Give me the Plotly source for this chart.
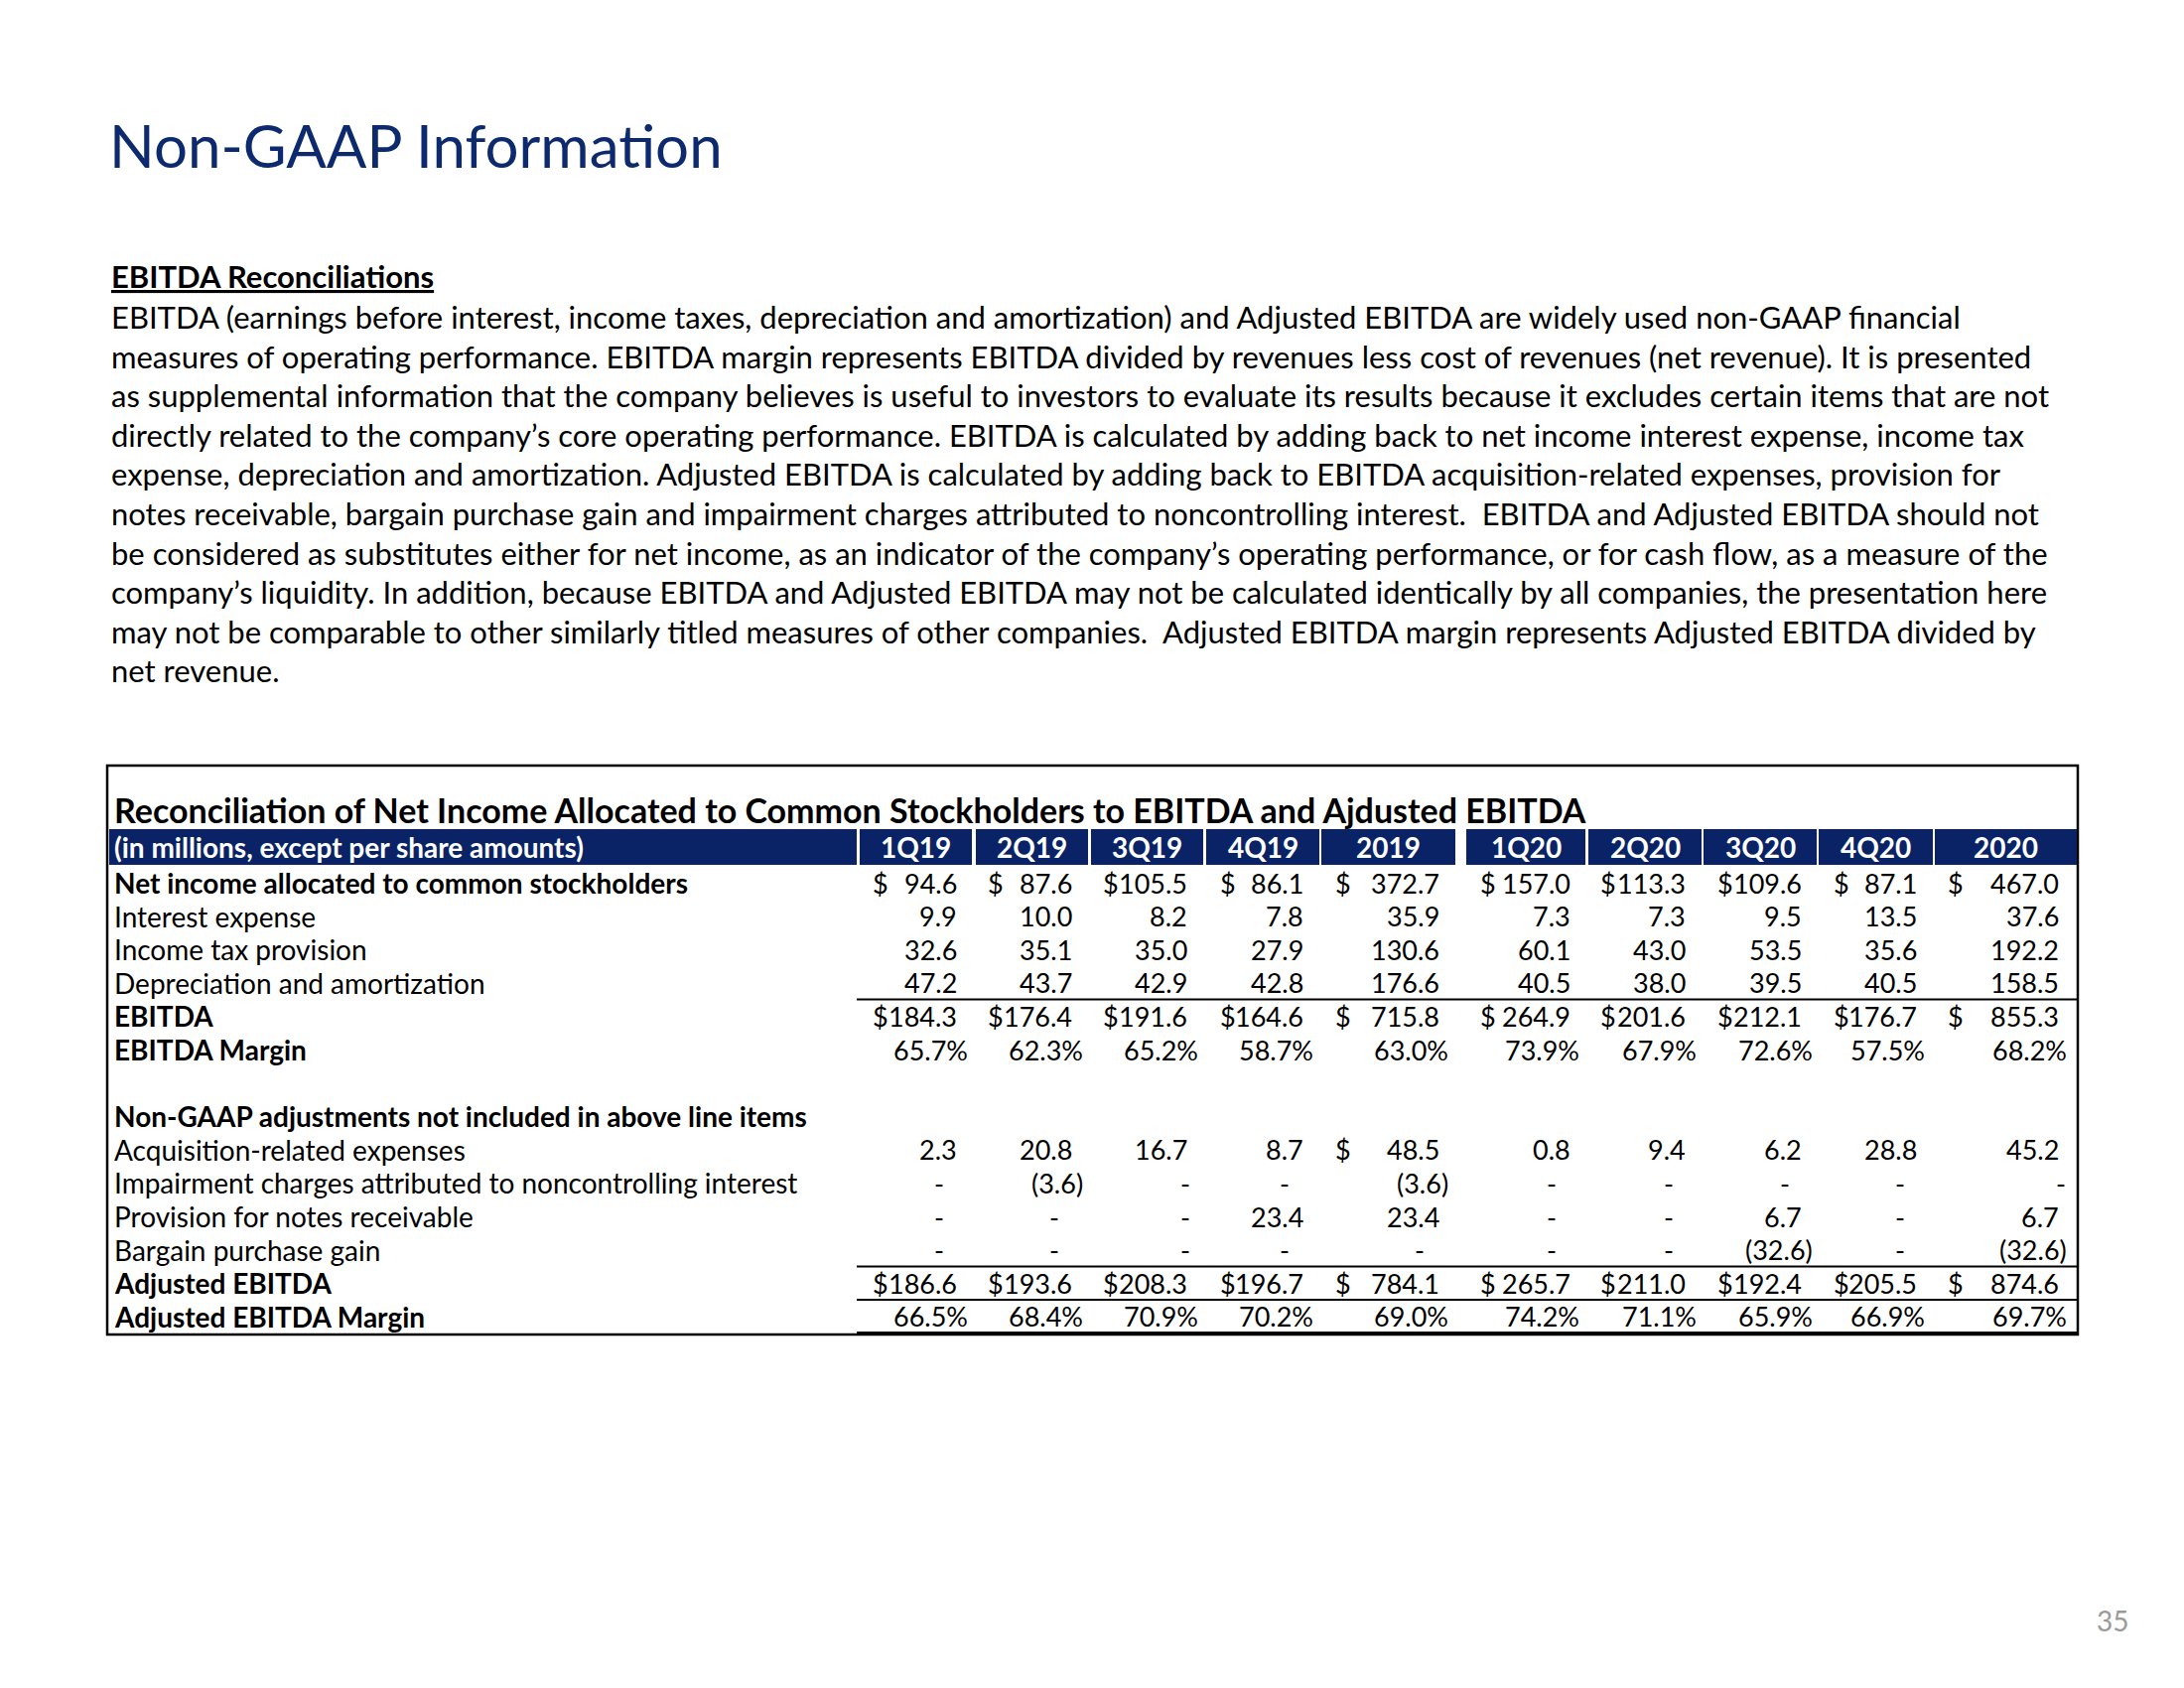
import plotly.graph_objects as go

# ---------------- data ----------------
columns = ["1Q19", "2Q19", "3Q19", "4Q19", "2019", "1Q20", "2Q20", "3Q20", "4Q20", "2020"]

net_income = [94.6, 87.6, 105.5, 86.1, 372.7, 157.0, 113.3, 109.6, 87.1, 467.0]
interest_expense = [9.9, 10.0, 8.2, 7.8, 35.9, 7.3, 7.3, 9.5, 13.5, 37.6]
income_tax = [32.6, 35.1, 35.0, 27.9, 130.6, 60.1, 43.0, 53.5, 35.6, 192.2]
dep_amort = [47.2, 43.7, 42.9, 42.8, 176.6, 40.5, 38.0, 39.5, 40.5, 158.5]
ebitda = [184.3, 176.4, 191.6, 164.6, 715.8, 264.9, 201.6, 212.1, 176.7, 855.3]
ebitda_margin = [65.7, 62.3, 65.2, 58.7, 63.0, 73.9, 67.9, 72.6, 57.5, 68.2]
acquisition = [2.3, 20.8, 16.7, 8.7, 48.5, 0.8, 9.4, 6.2, 28.8, 45.2]
impairment = [0, -3.6, 0, 0, -3.6, 0, 0, 0, 0, 0]
provision_notes = [0, 0, 0, 23.4, 23.4, 0, 0, 6.7, 0, 6.7]
bargain_gain = [0, 0, 0, 0, 0, 0, 0, -32.6, 0, -32.6]
adj_ebitda = [186.6, 193.6, 208.3, 196.7, 784.1, 265.7, 211.0, 192.4, 205.5, 874.6]
adj_ebitda_margin = [66.5, 68.4, 70.9, 70.2, 69.0, 74.2, 71.1, 65.9, 66.9, 69.7]

row_labels = [
    "Net income allocated to common stockholders",
    "Interest expense",
    "Income tax provision",
    "Depreciation and amortization",
    "EBITDA",
    "EBITDA Margin",
    "",
    "Non-GAAP adjustments not included in above line items",
    "Acquisition-related expenses",
    "Impairment charges attributed to noncontrolling interest",
    "Provision for notes receivable",
    "Bargain purchase gain",
    "Adjusted EBITDA",
    "Adjusted EBITDA Margin",
]
bold_rows = {0, 4, 5, 7, 12, 13}
# row index -> (values, kind, dollar flags)
row_values = {
    0: (net_income, "num", [True] * 10),
    1: (interest_expense, "num", [False] * 10),
    2: (income_tax, "num", [False] * 10),
    3: (dep_amort, "num", [False] * 10),
    4: (ebitda, "num", [True] * 10),
    5: (ebitda_margin, "pct", [False] * 10),
    8: (acquisition, "num", [False, False, False, False, True, False, False, False, False, False]),
    9: (impairment, "num", [False] * 10),
    10: (provision_notes, "num", [False] * 10),
    11: (bargain_gain, "num", [False] * 10),
    12: (adj_ebitda, "num", [True] * 10),
    13: (adj_ebitda_margin, "pct", [False] * 10),
}

title = "Non-GAAP Information"
subheading = "EBITDA Reconciliations"
paragraph_lines = [
    "EBITDA (earnings before interest, income taxes, depreciation and amortization) and Adjusted EBITDA are widely used non-GAAP financial",
    "measures of operating performance. EBITDA margin represents EBITDA divided by revenues less cost of revenues (net revenue). It is presented",
    "as supplemental information that the company believes is useful to investors to evaluate its results because it excludes certain items that are not",
    "directly related to the company\u2019s core operating performance. EBITDA is calculated by adding back to net income interest expense, income tax",
    "expense, depreciation and amortization. Adjusted EBITDA is calculated by adding back to EBITDA acquisition-related expenses, provision for",
    "notes receivable, bargain purchase gain and impairment charges attributed to noncontrolling interest.&nbsp; EBITDA and Adjusted EBITDA should not",
    "be considered as substitutes either for net income, as an indicator of the company\u2019s operating performance, or for cash flow, as a measure of the",
    "company\u2019s liquidity. In addition, because EBITDA and Adjusted EBITDA may not be calculated identically by all companies, the presentation here",
    "may not be comparable to other similarly titled measures of other companies.&nbsp; Adjusted EBITDA margin represents Adjusted EBITDA divided by",
    "net revenue.",
]
table_title = "Reconciliation of Net Income Allocated to Common Stockholders to EBITDA and Ajdusted EBITDA"
header_label = "(in millions, except per share amounts)"
page_number = "35"

# ---------------- layout / style ----------------
W, H = 2200, 1700
PAGE_OFFSET = 8  # browser body margin
NAVY = "#0A2366"
FONT = "Lato"

# header segments (x0, x1): label then each column
label_seg = (110, 863)
col_segs = [(866, 979), (983, 1096), (1099, 1212), (1215, 1329), (1331, 1466),
            (1477, 1597), (1600, 1714), (1716, 1830), (1832, 1947), (1949, 2092)]
num_right = [964, 1080, 1196, 1313, 1450, 1582, 1698, 1815, 1931, 2074]
paren_right = [975, 1091, 1207, 1323, 1459, 1591, 1709, 1826, 1939, 2082]
dollar_left = [879, 995, 1111, 1229, 1345, 1491, 1612, 1730, 1847, 1962]
dash_offset = [18, 18, 2, 19, 20, 19, 17, 17, 17, -2]

row_y0, row_h = 889, 33.6
label_x = 115
table_box = (108, 771, 2093, 1344)
header_y = (835, 871)
lines_x = (863, 2093)
NUM_SIZE = 27
LABEL_SIZE = 28

def row_y(i):
    return row_y0 + i * row_h

fig = go.Figure()
fig.add_trace(go.Scatter(x=[0, W], y=[0, H], mode="markers", marker=dict(opacity=0), hoverinfo="skip"))

ann = []

def txt(x, y, s, size, color="black", anchor="left", bold=False, yanchor="middle"):
    ann.append(dict(
        x=x, y=y, xref="x", yref="y", text=(f"<b>{s}</b>" if bold else s),
        showarrow=False, xanchor=anchor, yanchor=yanchor, borderpad=0, borderwidth=0,
        font=dict(size=size, color=color, family=FONT),
    ))

# Title
txt(110, 146, title, 60, color="#0D2A6E")
# Sub heading (underlined)
txt(112, 278, f"<u>{subheading}</u>", 31, bold=True)
for k, line in enumerate(paragraph_lines):
    txt(112, 319 + k * 39.6, line, 31)

shapes = []
# table box
x0, y0, x1, y1 = table_box
shapes.append(dict(type="rect", x0=x0, y0=y0, x1=x1, y1=y1, xref="x", yref="y",
                   line=dict(color="black", width=2.5), fillcolor="rgba(0,0,0,0)"))
txt(label_x, 815, table_title, 34, bold=True)

# header band
shapes.append(dict(type="rect", x0=label_seg[0], x1=label_seg[1], y0=header_y[0], y1=header_y[1],
                   xref="x", yref="y", line=dict(width=0), fillcolor=NAVY))
hy = (header_y[0] + header_y[1]) / 2
txt(label_x, hy, header_label, 28, color="white", bold=True)
for (a, b), c in zip(col_segs, columns):
    shapes.append(dict(type="rect", x0=a, x1=b, y0=header_y[0], y1=header_y[1],
                       xref="x", yref="y", line=dict(width=0), fillcolor=NAVY))
    txt((a + b) / 2, hy, c, 28, color="white", bold=True, anchor="center")

# row labels
for i, lab in enumerate(row_labels):
    if lab:
        txt(label_x, row_y(i), lab, LABEL_SIZE, bold=(i in bold_rows))

# values
for i, (vals, kind, dollars) in row_values.items():
    y = row_y(i)
    for j, v in enumerate(vals):
        if kind == "pct":
            txt(paren_right[j], y, f"{v:.1f}%", NUM_SIZE, anchor="right")
            continue
        if dollars[j]:
            txt(dollar_left[j], y, "$", NUM_SIZE, anchor="left")
        if v == 0:
            txt(num_right[j] - dash_offset[j], y, "-", NUM_SIZE, anchor="center")
        elif v < 0:
            txt(paren_right[j], y, f"({abs(v):.1f})", NUM_SIZE, anchor="right")
        else:
            txt(num_right[j], y, f"{v:.1f}", NUM_SIZE, anchor="right")

# rule lines
for r in (3.5, 11.5, 12.5):
    yy = row_y0 + r * row_h
    shapes.append(dict(type="line", x0=lines_x[0], x1=lines_x[1], y0=yy, y1=yy,
                       xref="x", yref="y", line=dict(color="black", width=2)))
# heavy bottom under numeric area
shapes.append(dict(type="line", x0=lines_x[0], x1=lines_x[1], y0=y1 - 1, y1=y1 - 1,
                   xref="x", yref="y", line=dict(color="black", width=4)))

# page number
txt(2128, 1632, page_number, 28, color="#9A9A9A", anchor="center")

fig.update_layout(
    width=W, height=H, margin=dict(l=0, r=0, t=0, b=0),
    paper_bgcolor="white", plot_bgcolor="white", showlegend=False,
    xaxis=dict(range=[PAGE_OFFSET, W + PAGE_OFFSET], visible=False, fixedrange=True),
    yaxis=dict(range=[H + PAGE_OFFSET, PAGE_OFFSET], visible=False, fixedrange=True),
    annotations=ann, shapes=shapes,
)
fig.write_html("out.html")
